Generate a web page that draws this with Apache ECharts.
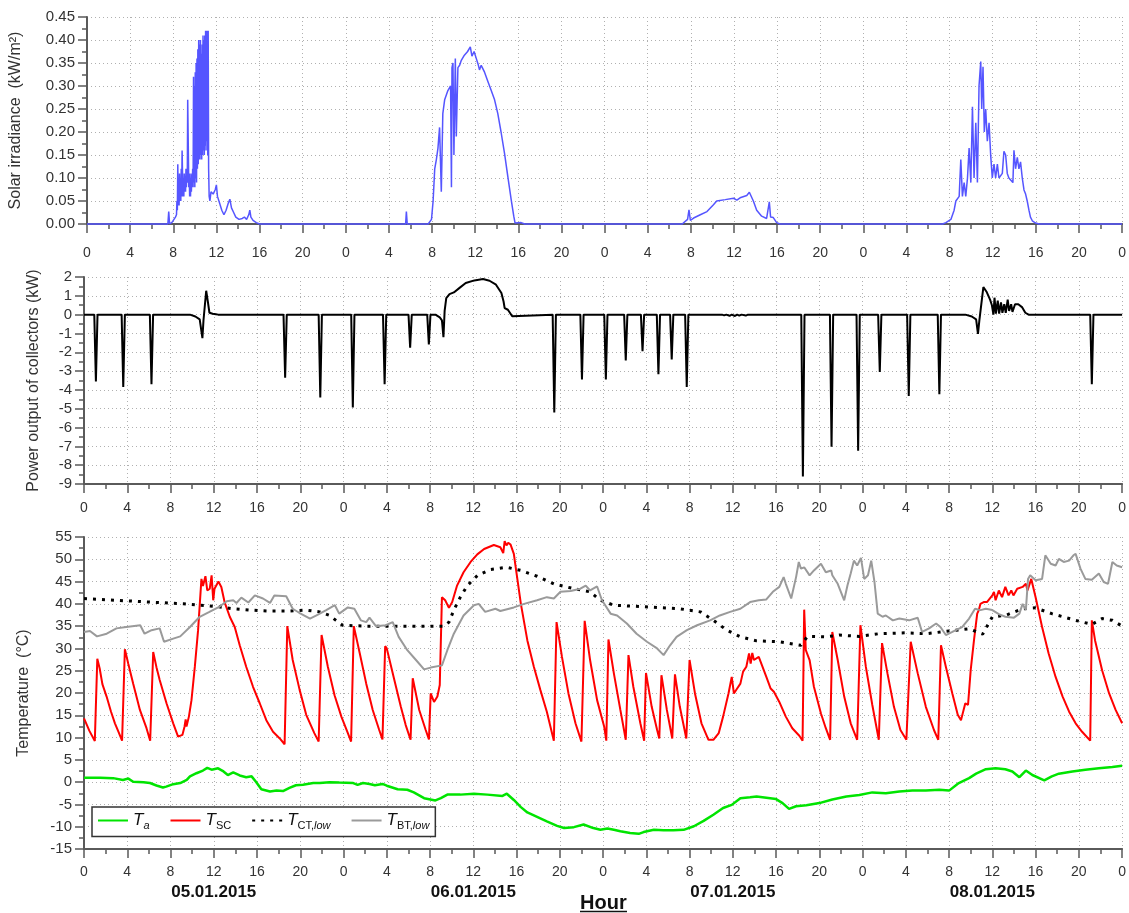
<!DOCTYPE html>
<html>
<head>
<meta charset="utf-8">
<script src="https://cdn.jsdelivr.net/npm/echarts@6/dist/echarts.min.js"></script>
<style>
  html, body { margin: 0; padding: 0; background: #fff; }
  #chart { width: 1129px; height: 913px; }
</style>
</head>
<body>
<div id="chart"></div>
<script>
// Solar irradiance (kW/m²) over four days, [hour since 05.01.2015 00:00, value]
const solarIrr = [
  [0,0],[7.5,0],[7.58,0.027],[7.66,0],[7.9,0.004],[8.2,0.015],[8.3,0.02],[8.34,0.05],[8.38,0.03],
  [8.42,0.13],[8.46,0.04],[8.5,0.1],[8.54,0.04],[8.58,0.11],[8.62,0.05],[8.66,0.09],[8.7,0.05],
  [8.74,0.12],[8.78,0.06],[8.82,0.16],[8.86,0.16],[8.9,0.06],[8.94,0.1],[8.98,0.06],[9.02,0.11],
  [9.06,0.07],[9.1,0.1],[9.14,0.07],[9.18,0.12],[9.22,0.08],[9.26,0.11],[9.3,0.09],[9.34,0.27],
  [9.4,0.27],[9.44,0.08],[9.48,0.11],[9.52,0.06],[9.56,0.1],[9.6,0.06],[9.64,0.11],[9.68,0.07],
  [9.72,0.1],[9.76,0.08],[9.8,0.12],[9.84,0.08],[9.88,0.32],[9.92,0.09],[9.96,0.3],[10.0,0.08],
  [10.04,0.33],[10.08,0.1],[10.12,0.35],[10.16,0.09],[10.2,0.36],[10.24,0.12],[10.28,0.38],[10.32,0.13],
  [10.36,0.4],[10.4,0.14],[10.44,0.39],[10.48,0.14],[10.52,0.4],[10.56,0.15],[10.6,0.37],[10.64,0.14],
  [10.68,0.39],[10.72,0.15],[10.76,0.41],[10.8,0.16],[10.84,0.4],[10.88,0.15],[10.92,0.41],[10.96,0.17],
  [11.0,0.42],[11.04,0.16],[11.08,0.42],[11.12,0.18],[11.16,0.42],[11.2,0.15],[11.24,0.42],[11.28,0.12],
  [11.33,0.06],[11.4,0.05],[11.5,0.07],[11.7,0.065],[11.9,0.075],[12.0,0.085],[12.1,0.06],
  [12.3,0.045],[12.5,0.03],[12.7,0.02],[12.9,0.03],[13.1,0.045],[13.25,0.054],[13.4,0.035],[13.6,0.025],
  [13.8,0.015],[14.1,0.01],[14.4,0.012],[14.6,0.015],[14.8,0.01],[15.0,0.02],[15.1,0.03],[15.2,0.015],
  [15.4,0.008],[15.7,0.003],[16.0,0],
  [29.55,0],[29.62,0.027],[29.7,0],[31.64,0],[31.95,0.01],[32.1,0.05],[32.25,0.12],[32.4,0.14],[32.55,0.165],
  [32.7,0.21],[32.86,0.07],[33.0,0.24],[33.17,0.27],[33.47,0.29],[33.72,0.3],[33.8,0.08],[33.85,0.34],
  [33.94,0.35],[34.03,0.15],[34.16,0.36],[34.25,0.19],[34.4,0.34],[34.56,0.345],[34.7,0.355],[35.0,0.367],
  [35.3,0.375],[35.55,0.385],[35.7,0.365],[35.9,0.375],[36.1,0.36],[36.3,0.345],[36.4,0.335],[36.56,0.345],
  [36.87,0.33],[37.18,0.31],[37.49,0.29],[37.8,0.27],[38.1,0.24],[38.4,0.2],[38.72,0.154],[39.03,0.103],
  [39.34,0.053],[39.58,0.017],[39.7,0.002],[40.26,0.003],[40.6,0],
  [55.2,0],[55.34,0.002],[55.7,0.01],[55.83,0.031],[55.96,0.008],[56.26,0.013],[56.88,0.02],[57.5,0.027],
  [58.1,0.042],[58.4,0.05],[59.19,0.053],[59.96,0.056],[60.27,0.052],[60.57,0.057],[61.19,0.062],
  [61.43,0.069],[61.8,0.05],[62.11,0.03],[62.57,0.017],[63.03,0.012],[63.28,0.048],[63.4,0.015],
  [63.65,0.014],[63.96,0.003],[64.27,0],
  [79.35,0],[79.66,0.003],[80.12,0.01],[80.42,0.03],[80.58,0.05],[80.89,0.06],[81.04,0.14],[81.19,0.06],
  [81.35,0.09],[81.5,0.06],[81.66,0.1],[81.81,0.165],[81.97,0.09],[82.12,0.255],[82.27,0.1],[82.43,0.22],
  [82.58,0.09],[82.73,0.3],[82.89,0.353],[82.98,0.25],[83.1,0.342],[83.22,0.2],[83.35,0.25],[83.5,0.18],
  [83.66,0.22],[83.81,0.15],[83.96,0.1],[84.12,0.13],[84.27,0.1],[84.43,0.13],[84.58,0.1],[84.89,0.11],
  [85.04,0.158],[85.2,0.15],[85.35,0.11],[85.5,0.1],[85.66,0.1],[85.87,0.09],[85.97,0.16],[86.12,0.12],
  [86.28,0.145],[86.43,0.12],[86.58,0.135],[86.74,0.1],[86.9,0.074],[87.05,0.065],[87.2,0.05],[87.36,0.03],
  [87.5,0.015],[87.67,0.007],[87.98,0.002],[88.3,0],[96,0]
];

// Power output of the collectors (kW)
const collectorPower = [
  [0,0],[0.95,0],[1.1,-3.55],[1.25,0],[3.48,0],[3.63,-3.85],[3.78,0],[6.09,0],[6.24,-3.7],[6.39,0],
  [9.8,0],[10.3,-0.1],[10.7,-0.25],[10.95,-1.25],[11.05,-0.3],[11.3,1.27],[11.45,0.7],[11.6,0.1],
  [11.75,0.15],[11.9,0.05],[12.2,0.02],[12.4,0],
  [18.45,0],[18.6,-3.35],[18.75,0],[21.7,0],[21.85,-4.4],[22.0,0],[24.71,0],[24.86,-4.94],[25.01,0],
  [27.65,0],[27.8,-3.7],[27.95,0],[30.01,0],[30.16,-1.76],[30.31,0],[31.74,0],[31.89,-1.59],[32.04,0],
  [32.5,0],[32.9,-0.15],[33.1,-0.3],[33.24,-1.2],[33.35,0.2],[33.5,0.88],[33.8,1.09],[34.2,1.18],
  [34.7,1.41],[35.3,1.68],[36.1,1.82],[36.9,1.89],[37.5,1.8],[38.1,1.59],[38.6,1.15],[38.8,0.7],
  [38.9,0.35],[39.0,0.44],[39.2,0.26],[39.4,0.09],[39.6,-0.09],[39.75,0],
  [43.34,0],[43.49,-5.2],[43.64,0],[45.9,0],[46.05,-3.44],[46.2,0],[48.11,0],[48.26,-3.44],[48.41,0],
  [49.95,0],[50.1,-2.43],[50.25,0],[51.5,0],[51.65,-1.94],[51.8,0],[52.97,0],[53.12,-3.17],[53.27,0],
  [54.2,0],[54.35,-2.38],[54.5,0],[55.59,0],[55.74,-3.84],[55.89,0],
  [59.0,0],[59.2,-0.04],[59.4,0],[59.7,-0.06],[59.9,0],[60.2,-0.07],[60.4,0],[60.6,-0.05],[60.8,0],
  [61.2,-0.05],[61.4,0],
  [66.33,0],[66.48,-8.6],[66.63,0],[68.98,0],[69.13,-7.02],[69.28,0],[71.44,0],[71.59,-7.23],[71.74,0],
  [73.44,0],[73.59,-3.05],[73.74,0],[76.12,0],[76.27,-4.32],[76.42,0],[78.95,0],[79.1,-4.23],[79.25,0],
  [81.5,0],[82.1,-0.1],[82.5,-0.25],[82.67,-1.02],[82.8,-0.3],[83.17,1.46],[83.48,1.2],[83.79,0.8],
  [83.96,0.5],[84.1,0.0],[84.2,0.9],[84.33,0.05],[84.5,0.75],[84.63,0.05],[84.8,0.65],[84.93,0.1],
  [85.1,0.55],[85.24,0.1],[85.42,0.8],[85.55,0.2],[85.74,0.55],[85.86,0.15],[86.1,0.55],[86.4,0.55],
  [86.74,0.4],[87.05,0.1],[87.2,0.02],[87.35,0],
  [93.05,0],[93.2,-3.7],[93.35,0],[96,0]
];

// Ambient temperature T_a (°C)
const tempA = [
  [0,1.0],[1.5,1.0],[2.7,0.9],[3.6,0.5],[4.1,0.8],[4.55,0.1],[5.5,0],[6.1,-0.2],[6.7,-0.75],[7.3,-1.2],
  [7.6,-1.0],[8.25,-0.45],[8.9,-0.2],[9.5,0.5],[9.8,1.3],[10.4,2.0],[11.0,2.6],[11.4,3.2],[11.8,2.8],
  [12.4,3.1],[12.9,2.4],[13.3,1.6],[13.8,2.2],[14.4,1.5],[15.0,1.1],[15.5,1.3],[15.9,0.1],[16.4,-1.6],
  [17.2,-2.1],[17.8,-1.9],[18.4,-2.0],[19.0,-1.3],[19.6,-0.7],[20.25,-0.6],[21.2,-0.2],[21.8,-0.2],
  [22.7,0],[23.6,-0.1],[24.9,-0.2],[25.3,-0.6],[25.8,-0.2],[26.4,-0.4],[26.9,-0.7],[27.6,-0.4],
  [28.0,-0.8],[29.0,-1.6],[29.9,-1.7],[30.5,-2.3],[31.45,-3.6],[32.5,-4.1],[33.0,-3.6],[33.6,-2.8],
  [34.8,-2.8],[36.06,-2.6],[37.3,-2.8],[38.7,-3.1],[39.1,-2.6],[39.75,-4.0],[40.4,-5.6],[41.0,-6.8],
  [41.9,-7.8],[42.8,-8.8],[43.75,-9.8],[44.4,-10.3],[45.3,-10.1],[46.2,-9.5],[47.1,-10.3],[47.75,-10.7],
  [48.4,-10.4],[49.0,-10.7],[49.6,-11.0],[50.5,-11.4],[51.3,-11.6],[51.75,-11.2],[52.7,-10.7],
  [53.6,-10.8],[54.5,-10.8],[55.45,-10.7],[56.4,-9.9],[57.3,-8.7],[58.2,-7.3],[59.1,-5.8],[59.9,-5.1],
  [60.7,-3.6],[61.6,-3.4],[62.2,-3.2],[63.1,-3.5],[64.0,-3.8],[64.6,-4.7],[65.2,-6.0],[65.85,-5.4],
  [66.8,-5.2],[68.0,-4.7],[69.2,-3.9],[70.5,-3.2],[71.7,-2.9],[72.9,-2.3],[74.15,-2.5],[75.4,-2.1],
  [76.6,-1.9],[77.85,-1.9],[79.1,-1.7],[80.0,-1.9],[80.9,-0.2],[81.85,0.9],[82.5,1.9],[83.4,2.9],
  [84.3,3.1],[85.2,2.9],[85.85,2.4],[86.5,1.1],[87.1,2.6],[87.7,1.6],[88.8,0.4],[89.5,1.3],[90.15,1.9],
  [91.4,2.4],[92.6,2.8],[93.85,3.1],[95.1,3.4],[96,3.7]
];

// Solar collector temperature T_SC (°C)
const tempSC = [
  [0,14.3],[0.5,11.5],[1.0,9.25],[1.12,9.2],[1.23,27.7],[1.45,25.5],[1.7,22],[2.09,19.2],[2.5,15.8],
  [2.86,13.2],[3.2,11.2],[3.52,9.3],[3.65,9.2],[3.78,29.8],[4.1,26.5],[4.55,22.1],[5.17,16.2],[5.78,12.1],
  [6.12,9.3],[6.2,9.2],[6.4,29.2],[6.7,25.8],[7.0,22.9],[7.63,17.7],[8.25,13.2],[8.7,10.2],[8.86,9.8],
  [9.1,10.6],[9.3,12.5],[9.4,14.1],[9.48,12.5],[9.7,14.7],[9.94,18.4],[10.25,25.9],[10.55,34.1],
  [10.86,45.6],[11.0,44],[11.08,43.8],[11.23,46.2],[11.4,43],[11.63,43.4],[11.8,46.4],[11.95,40.8],
  [12.07,43.4],[12.43,45.0],[12.7,43.8],[13.0,40.4],[13.48,37.1],[13.94,34.8],[14.4,30.7],[15.0,25.9],
  [15.63,21.4],[16.25,17.7],[16.86,13.9],[17.48,11.3],[18.1,9.8],[18.55,8.5],[18.8,35.0],[19.3,27.4],
  [19.94,20.7],[20.55,15.1],[21.3,11.0],[21.7,9.1],[21.97,33.0],[22.55,25.9],[23.17,19.5],[23.8,14.7],
  [24.4,11.0],[24.7,9.1],[24.95,35.0],[25.5,28.9],[26.1,22.1],[26.7,16.2],[27.3,11.7],[27.6,9.6],
  [27.85,30.5],[28.0,30],[28.7,22.9],[29.3,16.9],[29.75,12.8],[30.2,9.5],[30.4,23.3],[31.0,16.2],
  [31.6,11.7],[31.9,9.6],[32.06,19.9],[32.37,18],[32.68,19.2],[32.9,21.8],[33.1,41.5],[33.4,40.8],
  [33.75,39.1],[34.05,40.4],[34.5,44.1],[35.1,47.1],[35.75,49.4],[36.37,51.1],[37.0,52.3],[37.9,53.2],
  [38.5,52.7],[38.77,51.4],[38.9,54.1],[39.07,53.1],[39.23,53.7],[39.45,53.3],[39.6,53.6],[39.75,51.2],
  [39.9,48.6],[40.4,40],[41.0,31.8],[41.6,25.9],[42.2,20.7],[42.8,15.8],[43.45,9.3],[43.7,35.9],
  [44.2,28.1],[44.8,19.9],[45.45,13.2],[46.0,9.1],[46.3,36.2],[46.8,27.4],[47.45,18.4],[48.1,12.5],
  [48.3,9.3],[48.5,32.0],[49.0,24.4],[49.6,16.2],[50.1,9.5],[50.35,28.5],[50.8,21.4],[51.45,13.2],
  [51.8,9.3],[51.97,24.5],[52.5,16.9],[53.0,11.7],[53.2,9.8],[53.4,24.0],[53.9,16.2],[54.4,9.8],
  [54.65,24.2],[55.1,16.9],[55.7,9.8],[56.0,27.4],[56.5,19.9],[57.1,13.2],[57.75,9.5],[58.2,9.5],
  [58.7,11],[59.1,14.7],[59.6,19.9],[59.9,23.6],[60.1,19.9],[60.4,21],[60.7,22.1],[60.95,24.8],
  [61.1,24.4],[61.25,25.9],[61.5,28.9],[61.65,26.6],[61.8,29.0],[61.95,27.4],[62.4,28.1],[63.1,23.6],
  [63.5,21],[63.8,20.3],[64.3,18],[64.9,14.7],[65.5,12.1],[66.15,10.4],[66.45,9.3],[66.6,38.7],
  [66.75,29.6],[67.1,27.4],[67.5,21.4],[68.15,15.4],[68.6,12.1],[69.0,9.5],[69.2,33.7],[69.7,27.4],
  [70.3,19.2],[70.9,13.2],[71.5,9.5],[71.8,35.2],[72.3,25.9],[72.9,17.3],[73.5,9.5],[73.8,31.2],
  [74.3,24.4],[74.9,16.9],[75.5,11.7],[76.05,9.5],[76.45,31.5],[77.1,24.4],[77.85,16.9],[78.6,11.7],
  [79.0,9.5],[79.25,30.7],[79.7,25.9],[80.3,19.9],[80.8,15.1],[81.1,13.9],[81.3,15.8],[81.5,17.7],
  [81.75,17.3],[82.0,25.2],[82.3,31.8],[82.6,37.8],[82.75,38.6],[82.9,40],[83.2,40.4],[83.5,40.4],
  [84.0,41.9],[84.15,42.7],[84.3,40.8],[84.6,43],[84.9,41.5],[85.2,43.8],[85.5,41.9],[85.75,43],
  [85.95,41.9],[86.3,43.4],[86.8,43.8],[87.1,44.5],[87.25,43],[87.6,45.6],[88.0,41.5],[88.6,34.8],
  [89.2,28.9],[89.85,23.6],[90.5,19.2],[91.1,15.8],[91.7,13.2],[92.3,11.3],[93.05,9.3],[93.2,36.3],
  [93.5,31.8],[94.15,25.1],[94.8,19.9],[95.4,16.2],[96,13.2]
];

// Lower combi-tank temperature T_CT,low (°C)
const tempCT = [
  [0,41.2],[3,40.8],[6.1,40.4],[9.2,40.0],[10.7,39.7],[12.25,39.4],[13.8,38.9],[15.3,38.6],[16.9,38.4],
  [19.0,38.4],[20.55,38.6],[21.8,38.2],[22.7,37.4],[23.3,36.3],[23.9,35.2],[26.1,35.0],[30.5,35.0],
  [33.3,35.0],[33.75,35.9],[34.2,38.6],[34.8,41.5],[35.45,44.1],[36.4,46.4],[37.6,47.7],[39.1,48.2],
  [40.4,47.5],[41.9,46.2],[43.45,44.5],[45.3,43.4],[46.8,42.7],[47.75,40.8],[49.0,39.7],[52.1,39.3],
  [55.1,38.9],[57.0,38.2],[58.2,36.3],[59.45,34.1],[60.7,32.6],[62.2,31.7],[64.3,31.5],[66.3,30.7],
  [66.9,32.7],[68.6,32.6],[69.85,33.0],[71.7,32.7],[73.5,33.3],[76.0,33.5],[77.85,33.3],[80.0,33.9],
  [81.85,34.4],[83.1,33.2],[84.0,37.1],[85.2,37.4],[86.8,38.9],[88.0,39.1],[89.5,37.8],[91.7,36.3],
  [93.2,35.4],[94.15,36.7],[95.1,36.3],[96,35.0]
];

// Lower buffer-tank temperature T_BT,low (°C)
const tempBT = [
  [0,33.7],[0.55,33.9],[1.2,32.7],[2.1,33.3],[3.0,34.5],[3.9,34.8],[5.2,35.2],[5.6,33.3],[6.25,34.1],
  [7.0,34.5],[7.4,31.5],[8.25,32.2],[8.9,32.7],[9.8,34.8],[10.7,37.1],[11.6,38.2],[12.55,39.4],
  [13.2,40.6],[13.8,40.8],[14.1,40.2],[14.55,41.4],[15.2,40.3],[15.8,41.9],[16.55,41.2],[17.2,40.2],
  [17.6,41.9],[18.7,41.7],[19.3,38.9],[19.9,38.0],[20.9,36.7],[21.5,37.4],[22.4,38.6],[23.2,39.7],
  [23.6,37.8],[24.4,39.2],[25.0,38.9],[25.6,36.3],[26.1,35.9],[26.4,36.9],[27.0,35.0],[27.9,35.2],
  [28.55,35.9],[28.7,36.3],[29.1,32.6],[29.9,29.6],[30.7,27.4],[31.45,25.3],[32.06,25.7],[33.1,26.2],
  [33.6,29.6],[34.2,33.3],[35.1,37.4],[36.06,39.7],[36.5,40.0],[37.1,38.2],[38.05,38.9],[38.5,38.4],
  [39.75,39.2],[40.7,40.0],[41.9,40.8],[42.8,41.5],[43.45,41.2],[44.06,42.7],[45.0,42.9],[45.9,43.4],
  [46.4,44.1],[46.8,43.0],[47.45,43.9],[47.9,40.8],[48.7,37.8],[49.3,37.4],[50.2,35.6],[51.1,33.3],
  [52.06,31.5],[53.0,30.0],[53.6,28.5],[54.2,30.7],[54.8,32.6],[55.75,34.1],[56.7,35.2],[57.9,36.3],
  [58.8,37.4],[59.75,38.2],[60.7,38.9],[61.6,40.4],[62.4,40.8],[63.1,41.0],[63.7,42.7],[64.3,43.8],
  [64.7,46.0],[64.9,44.5],[65.4,41.2],[65.85,46.0],[66.1,49.4],[66.3,47.9],[66.6,48.2],[67.1,46.4],
  [67.5,47.5],[68.15,49.0],[68.6,47.1],[69.1,47.5],[69.2,46.4],[69.7,44.5],[70.3,40.8],[70.6,44.1],
  [70.9,46.8],[71.2,49.7],[71.5,48.6],[71.85,50.3],[72.15,45.6],[72.5,46.4],[72.8,49.7],[73.1,44.9],
  [73.4,37.8],[73.85,37.1],[74.15,37.4],[74.8,36.3],[75.4,36.7],[76.3,36.3],[77.1,36.9],[77.5,33.7],
  [78.15,34.5],[78.8,35.6],[79.2,34.8],[79.7,33.0],[80.3,33.7],[81.2,34.8],[81.85,36.7],[82.4,38.9],
  [82.9,38.6],[83.4,38.9],[84.0,38.6],[84.6,37.7],[85.2,37.1],[86.0,36.9],[86.5,37.8],[86.8,40.0],
  [87.1,38.6],[87.3,45.6],[87.5,46.4],[88.0,45.3],[88.6,45.6],[88.9,50.9],[89.4,49.0],[89.85,48.6],
  [90.15,50.1],[90.6,49.4],[91.1,49.7],[91.5,50.9],[91.7,51.2],[92.15,47.9],[92.6,45.6],[93.2,45.4],
  [93.85,46.8],[94.3,44.9],[94.7,44.5],[95.1,49.4],[95.5,48.6],[96,48.2]
];

// Day labels centred under each day
const dayLabels = ['05.01.2015', '06.01.2015', '07.01.2015', '08.01.2015'];

// Legend entries with subscripts
const legendText = {
  Ta:  '{t|T}{si|a}',
  Tsc: '{t|T}{su|SC}',
  Tct: '{t|T}{su|CT,}{si|low}',
  Tbt: '{t|T}{su|BT,}{si|low}'
};

const FONT = '"Liberation Sans", Arial, sans-serif';
const AXIS_COLOR = '#5a5a5a';
const LABEL_COLOR = '#333';

const grids = [
  { left: 84, right: 5, top: 17, height: 207 },
  { left: 84, right: 5, top: 277, height: 207 },
  { left: 84, right: 5, top: 537, height: 312 }
];

const gridLine = { show: true, lineStyle: { color: '#b0b0b0', type: [1, 3], width: 1 } };

function hourAxis(gridIndex, labelMargin) {
  return {
    gridIndex, type: 'value', min: 0, max: 96, interval: 4,
    axisLine: { onZero: false, lineStyle: { color: AXIS_COLOR, width: 2 } },
    axisTick: { length: 9, lineStyle: { color: AXIS_COLOR, width: 1.5 } },
    minorTick: { show: true, splitNumber: 2, length: 5, lineStyle: { color: AXIS_COLOR, width: 1.5 } },
    splitLine: gridLine,
    axisLabel: { color: LABEL_COLOR, fontSize: 14, fontFamily: FONT, margin: labelMargin,
                 formatter: v => String(v % 24) }
  };
}

function valueAxis(gridIndex, min, max, interval, name, nameGap, fmt) {
  return {
    gridIndex, type: 'value', min, max, interval,
    name, nameLocation: 'middle', nameGap,
    nameTextStyle: { fontSize: 16, color: LABEL_COLOR, fontFamily: FONT },
    axisLine: { show: true, onZero: false, lineStyle: { color: AXIS_COLOR, width: 2 } },
    axisTick: { show: true, length: 9, lineStyle: { color: AXIS_COLOR, width: 1.5 } },
    minorTick: { show: true, splitNumber: 2, length: 5, lineStyle: { color: AXIS_COLOR, width: 1.5 } },
    splitLine: gridLine,
    axisLabel: { color: LABEL_COLOR, fontSize: 15, fontFamily: FONT, margin: 12, formatter: fmt }
  };
}

const option = {
  animation: false,
  backgroundColor: '#fff',
  textStyle: { fontFamily: FONT },
  grid: grids,
  xAxis: [
    hourAxis(0, 22),
    hourAxis(1, 17),
    hourAxis(2, 16),
    {
      gridIndex: 2, type: 'category', data: dayLabels, boundaryGap: true, position: 'bottom',
      axisLine: { show: false }, axisTick: { show: false }, splitLine: { show: false },
      axisLabel: { margin: 35, fontSize: 17, fontWeight: 'bold', color: '#111', fontFamily: FONT }
    }
  ],
  yAxis: [
    valueAxis(0, 0, 0.45, 0.05, 'Solar irradiance  (kW/m²)', 63, v => v.toFixed(2)),
    valueAxis(1, -9, 2, 1, 'Power output of collectors (kW)', 42, v => String(v)),
    valueAxis(2, -15, 55, 5, 'Temperature  (°C)', 52, v => String(v))
  ],
  legend: {
    data: ['Ta', 'Tsc', 'Tct', 'Tbt'],
    left: 92, top: 807,
    orient: 'horizontal',
    itemWidth: 30, itemHeight: 12, itemGap: 20,
    padding: [5, 6, 5, 5],
    backgroundColor: '#fff',
    borderColor: '#333', borderWidth: 1.5, borderRadius: 0,
    itemStyle: { opacity: 0 },
    formatter: name => legendText[name],
    textStyle: {
      color: '#111',
      rich: {
        t:  { fontSize: 17, fontStyle: 'italic', fontFamily: FONT, color: '#111', lineHeight: 22 },
        si: { fontSize: 11, fontStyle: 'italic', fontFamily: FONT, color: '#111', lineHeight: 12, verticalAlign: 'bottom' },
        su: { fontSize: 11, fontFamily: FONT, color: '#111', lineHeight: 12, verticalAlign: 'bottom' }
      }
    }
  },
  graphic: [
    { type: 'text', left: 580, top: 893, z: 10,
      style: { text: 'Hour', font: 'bold 20px "Liberation Sans", Arial, sans-serif', fill: '#111' } },
    { type: 'line', z: 10, shape: { x1: 580, y1: 911.5, x2: 627, y2: 911.5 },
      style: { stroke: '#111', lineWidth: 1.5 } }
  ],
  series: [
    { name: 'Solar', type: 'line', xAxisIndex: 0, yAxisIndex: 0, data: solarIrr,
      symbol: 'none', clip: false, lineStyle: { color: '#5555ff', width: 1.5 }, z: 3 },
    { name: 'Power', type: 'line', xAxisIndex: 1, yAxisIndex: 1, data: collectorPower,
      symbol: 'none', clip: false, lineStyle: { color: '#000', width: 2 }, z: 3 },
    { name: 'Ta', type: 'line', xAxisIndex: 2, yAxisIndex: 2, data: tempA,
      symbol: 'none', color: '#00e400', lineStyle: { color: '#00e400', width: 2.5 }, z: 3 },
    { name: 'Tsc', type: 'line', xAxisIndex: 2, yAxisIndex: 2, data: tempSC,
      symbol: 'none', color: '#ff0000', lineStyle: { color: '#ff0000', width: 2 }, z: 3 },
    { name: 'Tct', type: 'line', xAxisIndex: 2, yAxisIndex: 2, data: tempCT,
      symbol: 'none', color: '#000', lineStyle: { color: '#000', width: 3, type: [3, 6] }, z: 3 },
    { name: 'Tbt', type: 'line', xAxisIndex: 2, yAxisIndex: 2, data: tempBT,
      symbol: 'none', color: '#9a9a9a', lineStyle: { color: '#9a9a9a', width: 2 }, z: 3 }
  ]
};

const chart = echarts.init(document.getElementById('chart'), null, { renderer: 'canvas' });
chart.setOption(option);
</script>
</body>
</html>
